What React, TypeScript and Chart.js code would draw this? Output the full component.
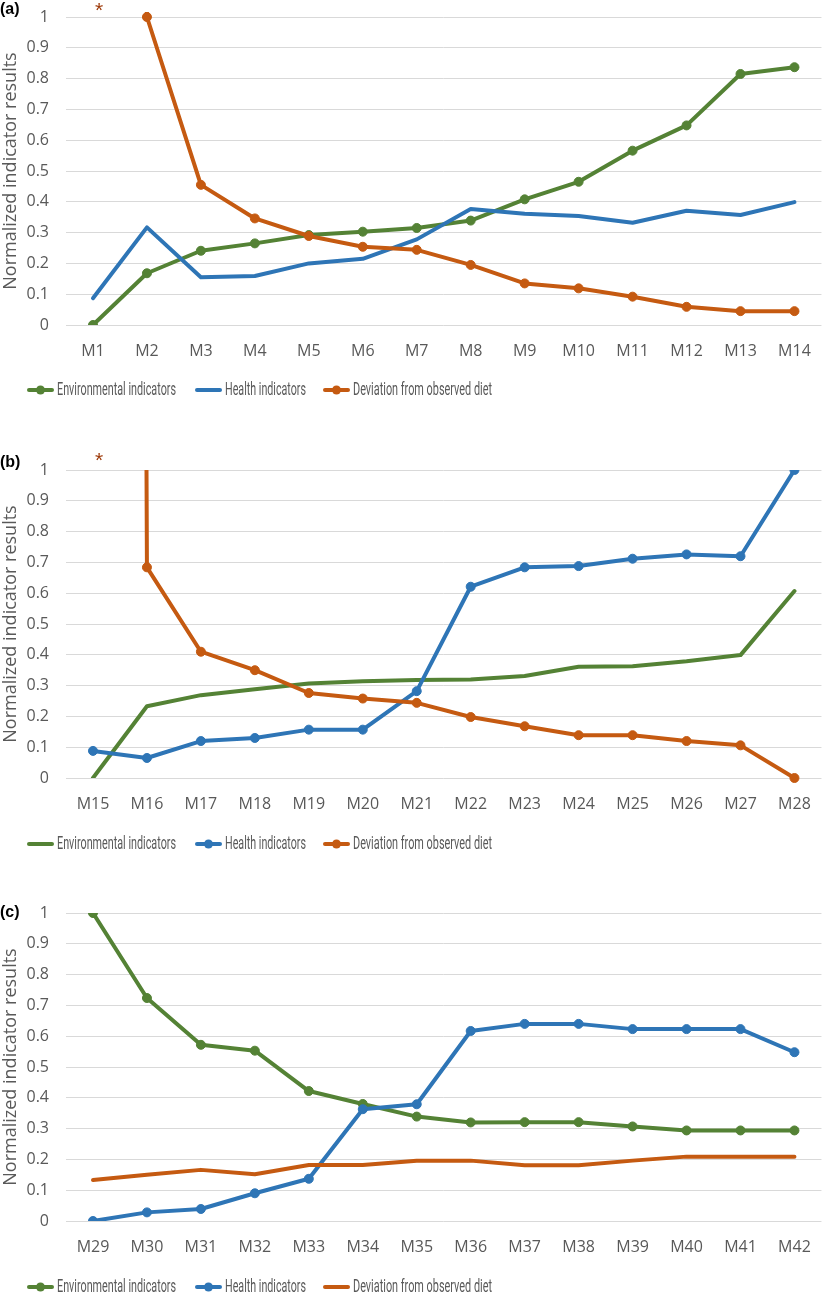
import React, { useEffect, useRef } from 'react';
import { Chart, registerables } from 'chart.js';

Chart.register(...registerables);

// ---- data -------------------------------------------------------------

const modelsA = ['M1', 'M2', 'M3', 'M4', 'M5', 'M6', 'M7', 'M8', 'M9', 'M10', 'M11', 'M12', 'M13', 'M14'];
const modelsB = ['M15', 'M16', 'M17', 'M18', 'M19', 'M20', 'M21', 'M22', 'M23', 'M24', 'M25', 'M26', 'M27', 'M28'];
const modelsC = ['M29', 'M30', 'M31', 'M32', 'M33', 'M34', 'M35', 'M36', 'M37', 'M38', 'M39', 'M40', 'M41', 'M42'];

const seriesNames = ['Environmental indicators', 'Health indicators', 'Deviation from observed diet'];

// (a) — the first deviation value is far above the axis maximum (marked with *)
const environmentalA = [0, 0.168, 0.241, 0.265, 0.292, 0.303, 0.315, 0.339, 0.408, 0.465, 0.566, 0.648, 0.815, 0.837];
const healthA = [0.087, 0.317, 0.155, 0.159, 0.2, 0.215, 0.278, 0.377, 0.361, 0.354, 0.332, 0.371, 0.357, 0.399];
const deviationA = [40, 1.0, 0.455, 0.346, 0.289, 0.254, 0.244, 0.195, 0.135, 0.119, 0.092, 0.059, 0.045, 0.045];

// (b) — the first deviation value is far above the axis maximum (marked with *)
const environmentalB = [0, 0.233, 0.269, 0.288, 0.307, 0.314, 0.318, 0.32, 0.331, 0.361, 0.363, 0.379, 0.399, 0.607];
const healthB = [0.088, 0.065, 0.12, 0.13, 0.157, 0.157, 0.282, 0.621, 0.684, 0.688, 0.712, 0.726, 0.72, 1.0];
const deviationB = [40, 0.684, 0.41, 0.35, 0.276, 0.258, 0.244, 0.198, 0.168, 0.139, 0.139, 0.12, 0.106, 0];

// (c)
const environmentalC = [1.0, 0.724, 0.572, 0.553, 0.422, 0.38, 0.339, 0.32, 0.321, 0.321, 0.307, 0.294, 0.294, 0.294];
const healthC = [0, 0.028, 0.039, 0.09, 0.137, 0.363, 0.379, 0.617, 0.64, 0.64, 0.623, 0.623, 0.623, 0.548];
const deviationC = [0.133, 0.15, 0.166, 0.152, 0.182, 0.182, 0.196, 0.196, 0.181, 0.181, 0.196, 0.209, 0.209, 0.209];

const yTickValues = [0, 0.1, 0.2, 0.3, 0.4, 0.5, 0.6, 0.7, 0.8, 0.9, 1];
const yTickLabels = ['0', '0.1', '0.2', '0.3', '0.4', '0.5', '0.6', '0.7', '0.8', '0.9', '1'];

// ---- styling ----------------------------------------------------------

const COLORS = ['#548235', '#2E75B6', '#C55A11'];
const ASTERISK_COLOR = '#9E3B0B';
const TEXT_GREY = '#595959';
const GRID_GREY = '#D9D9D9';
const TICK_FONT = { family: '"Open Sans", "Noto Sans", sans-serif', size: 16 };
const TITLE_FONT = { family: '"Open Sans", "Noto Sans", sans-serif', size: 18 };
const LEGEND_FONT = '18px Roboto, "Open Sans", sans-serif';
const TAG_FONT = 'bold 16px "Liberation Sans", Arial, sans-serif';

// legend row: start of each key line and width of each caption
const legendX = [27, 195, 323];
const legendTextWidth = [119, 81, 139];

const WIDTH = 828;
const Y_AXIS_WIDTH = 66;
const X_AXIS_HEIGHT = 40;

type PanelSpec = {
  tag: string;
  categories: string[];
  series: number[][];
  markers: boolean[];
  clipTop: (number | undefined)[];
  offScaleFirst: boolean;
  top: number;
  height: number;
  padTop: number;
  padBottom: number;
  legendY: number;
  tagY: number;
  asteriskY: number;
};

const panels: PanelSpec[] = [
  {
    tag: '(a)',
    categories: modelsA,
    series: [environmentalA, healthA, deviationA],
    markers: [true, false, true],
    clipTop: [undefined, undefined, 5],
    offScaleFirst: true,
    top: 0,
    height: 410,
    padTop: 17,
    padBottom: 45,
    legendY: 390,
    tagY: 10,
    asteriskY: 5,
  },
  {
    tag: '(b)',
    categories: modelsB,
    series: [environmentalB, healthB, deviationB],
    markers: [false, true, true],
    clipTop: [undefined, undefined, 0],
    offScaleFirst: true,
    top: 410,
    height: 450,
    padTop: 60,
    padBottom: 42,
    legendY: 434,
    tagY: 53,
    asteriskY: 45,
  },
  {
    tag: '(c)',
    categories: modelsC,
    series: [environmentalC, healthC, deviationC],
    markers: [true, true, false],
    clipTop: [undefined, undefined, undefined],
    offScaleFirst: false,
    top: 860,
    height: 433,
    padTop: 53,
    padBottom: 32,
    legendY: 427,
    tagY: 53,
    asteriskY: 0,
  },
];

// Panel letter, off-scale asterisk and the legend row
const panelDecor = {
  id: 'panelDecor',
  afterDraw(chart: any, _args: any, opts: any) {
    const spec: PanelSpec = opts.spec;
    const ctx: CanvasRenderingContext2D = chart.ctx;
    ctx.save();

    ctx.fillStyle = '#000';
    ctx.font = TAG_FONT;
    ctx.textAlign = 'left';
    ctx.textBaseline = 'middle';
    ctx.fillText(spec.tag, 0, spec.tagY);

    if (spec.offScaleFirst) {
      const x = chart.scales.x.getPixelForValue(0) + 6;
      ctx.fillStyle = ASTERISK_COLOR;
      ctx.font = '21px "Liberation Sans", Arial, sans-serif';
      ctx.textAlign = 'center';
      ctx.textBaseline = 'alphabetic';
      ctx.fillText('*', x, spec.asteriskY + 12);
    }

    const y = spec.legendY;
    seriesNames.forEach((name, i) => {
      const x0 = legendX[i];
      ctx.strokeStyle = COLORS[i];
      ctx.lineWidth = 4;
      ctx.lineCap = 'round';
      ctx.beginPath();
      ctx.moveTo(x0 + 2, y);
      ctx.lineTo(x0 + 25, y);
      ctx.stroke();
      if (spec.markers[i]) {
        ctx.fillStyle = COLORS[i];
        ctx.beginPath();
        ctx.arc(x0 + 13.5, y, 4.5, 0, Math.PI * 2);
        ctx.fill();
      }
      ctx.font = LEGEND_FONT;
      const natural = ctx.measureText(name).width;
      ctx.save();
      ctx.translate(x0 + 30, y);
      ctx.scale(legendTextWidth[i] / natural, 1);
      ctx.fillStyle = TEXT_GREY;
      ctx.textAlign = 'left';
      ctx.textBaseline = 'middle';
      ctx.fillText(name, 0, 0);
      ctx.restore();
    });

    ctx.restore();
  },
};

function Panel({ spec }: { spec: PanelSpec }) {
  const ref = useRef<HTMLCanvasElement>(null);

  useEffect(() => {
    if (!ref.current) return;
    const datasets = spec.series.map((values, i) => {
      const ds: any = {
        label: seriesNames[i],
        data: values,
        borderColor: COLORS[i],
        backgroundColor: COLORS[i],
        borderWidth: 4,
        borderJoinStyle: 'round',
        borderCapStyle: 'round',
        tension: 0,
        pointRadius: spec.markers[i] ? 4.5 : 0,
        pointBorderWidth: 1,
        pointBackgroundColor: COLORS[i],
        pointBorderColor: COLORS[i],
        order: 3 - i,
      };
      if (spec.clipTop[i] !== undefined) {
        ds.clip = { left: 8, right: 8, bottom: 8, top: spec.clipTop[i] };
      }
      return ds;
    });

    const chart = new Chart(ref.current, {
      type: 'line',
      data: { labels: spec.categories, datasets },
      options: {
        responsive: false,
        animation: false,
        events: [],
        layout: { padding: { top: spec.padTop, right: 2, bottom: spec.padBottom, left: 0 } },
        plugins: {
          legend: { display: false },
          tooltip: { enabled: false },
          panelDecor: { spec },
        } as any,
        scales: {
          x: {
            type: 'category',
            offset: true,
            grid: { display: false, drawTicks: false },
            border: { display: false },
            ticks: { color: TEXT_GREY, font: TICK_FONT, padding: 17, maxRotation: 0, autoSkip: false },
            afterFit: (scale: any) => {
              scale.height = X_AXIS_HEIGHT;
            },
          },
          y: {
            type: 'linear',
            min: 0,
            max: 1,
            grid: { color: GRID_GREY, lineWidth: 1, drawTicks: false },
            border: { display: false },
            ticks: {
              color: TEXT_GREY,
              font: TICK_FONT,
              padding: 17,
              callback: (_v: any, i: number) => yTickLabels[i],
            },
            afterBuildTicks: (scale: any) => {
              scale.ticks = yTickValues.map((v) => ({ value: v }));
            },
            afterFit: (scale: any) => {
              scale.width = Y_AXIS_WIDTH;
              scale.paddingTop = 0;
              scale.paddingBottom = 0;
            },
            title: {
              display: true,
              text: 'Normalized indicator results',
              color: TEXT_GREY,
              font: TITLE_FONT,
              padding: { top: 0, bottom: 0 },
            },
          },
        },
      },
      plugins: [panelDecor],
    });

    return () => chart.destroy();
  }, [spec]);

  return (
    <canvas
      ref={ref}
      width={WIDTH}
      height={spec.height}
      style={{ position: 'absolute', left: 0, top: spec.top, width: WIDTH, height: spec.height, display: 'block' }}
    />
  );
}

export default function App() {
  return (
    <div style={{ position: 'absolute', left: 0, top: 0, width: WIDTH, height: 1293, background: '#ffffff', overflow: 'hidden' }}>
      {panels.map((p) => (
        <Panel key={p.tag} spec={p} />
      ))}
    </div>
  );
}
